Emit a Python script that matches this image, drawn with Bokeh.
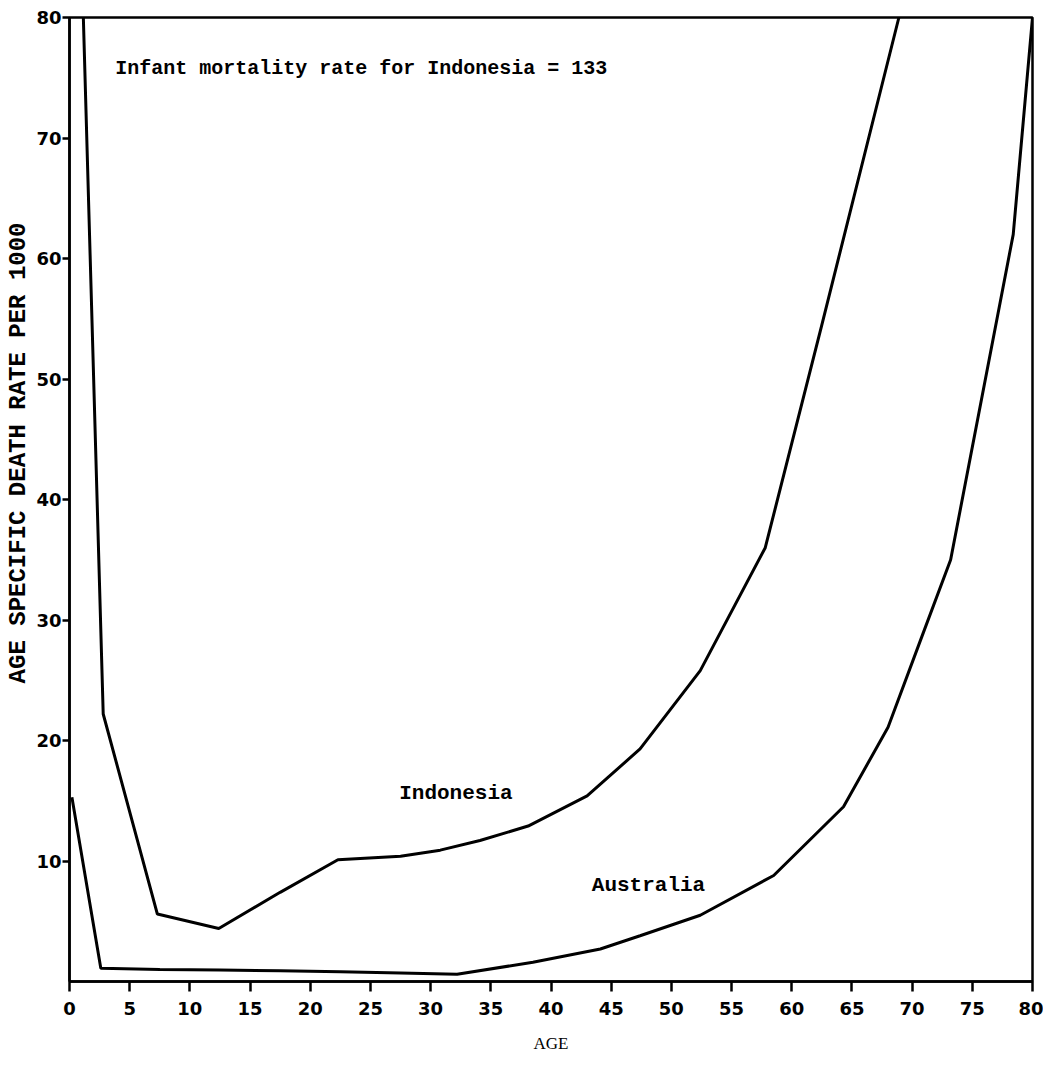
import math
from bokeh.plotting import figure
from bokeh.models import Range1d, FixedTicker, Label, Title
from bokeh.embed import file_html
from bokeh.resources import INLINE

# ---- data ----
x_ticks = [0, 5, 10, 15, 20, 25, 30, 35, 40, 45, 50, 55, 60, 65, 70, 75, 80]
y_ticks = [10, 20, 30, 40, 50, 60, 70, 80]

indo_age = [1.15, 2.8, 7.3, 12.4, 17.5, 22.3, 27.5, 30.8, 34.1, 38.1, 43.0, 47.4, 52.4, 57.8, 62.5, 68.9]
indo_rate = [80.0, 22.2, 5.6, 4.4, 7.4, 10.1, 10.4, 10.9, 11.7, 12.9, 15.4, 19.3, 25.8, 36.0, 54.5, 80.0]

aus_age = [0.2, 2.6, 7.5, 12.5, 17.5, 22.5, 27.5, 32.2, 38.5, 44.1, 47.4, 52.4, 58.5, 64.3, 68.0, 70.8, 73.2, 78.4, 80.0]
aus_rate = [15.3, 1.1, 1.0, 0.95, 0.9, 0.8, 0.7, 0.6, 1.6, 2.7, 3.8, 5.5, 8.8, 14.5, 21.1, 28.6, 35.0, 62.0, 80.0]

note_text = "Infant mortality rate for Indonesia = 133"
series_labels = ["Indonesia", "Australia"]
label_pos = [(32.1, 15.6), (48.1, 8.0)]
y_title = "AGE SPECIFIC DEATH RATE PER 1000"
x_title = "AGE"

p = figure(width=1043, height=1063,
           x_range=Range1d(0, 80), y_range=Range1d(0, 80),
           output_backend="svg", toolbar_location=None,
           min_border_left=69, min_border_right=11,
           min_border_top=17, min_border_bottom=82)

p.background_fill_color = "white"
p.border_fill_color = "white"
p.outline_line_color = "black"
p.outline_line_width = 2.5
p.xgrid.visible = False
p.ygrid.visible = False

# x axis
xa = p.xaxis[0]
xa.ticker = FixedTicker(ticks=x_ticks)
xa.axis_line_width = 2.5
xa.major_tick_line_width = 2.5
xa.major_tick_in = 0
xa.major_tick_out = 10
xa.minor_tick_line_color = None
xa.major_label_standoff = 10
xa.major_label_text_font = "DejaVu Sans"
xa.major_label_text_font_style = "bold"
xa.major_label_text_font_size = "18px"
xa.major_label_text_color = "black"
xa.axis_label = x_title
xa.axis_label_text_font = "Liberation Serif"
xa.axis_label_text_font_style = "normal"
xa.axis_label_text_font_size = "17px"
xa.axis_label_text_color = "black"
xa.axis_label_standoff = 16

# y axis
ya = p.yaxis[0]
ya.ticker = FixedTicker(ticks=y_ticks)
ya.axis_line_width = 2.5
ya.major_tick_line_width = 2.5
ya.major_tick_in = 0
ya.major_tick_out = 7
ya.minor_tick_line_color = None
ya.major_label_standoff = 1
ya.major_label_text_font = "DejaVu Sans"
ya.major_label_text_font_style = "bold"
ya.major_label_text_font_size = "18px"
ya.major_label_text_color = "black"

# y title placed left of the axis, shifted upward like the reference
p.add_layout(Title(text=y_title, align="right", offset=205,
                   text_font="Liberation Mono", text_font_style="bold",
                   text_font_size="24px", text_color="black", standoff=3), "left")

# series
p.line(indo_age, indo_rate, line_color="black", line_width=3)
p.line(aus_age, aus_rate, line_color="black", line_width=3)

# annotations
p.add_layout(Label(x=3.8, y=75.8, text=note_text, text_align="left",
                   text_baseline="middle", text_font="Liberation Mono",
                   text_font_style="bold", text_font_size="20px", text_color="black"))
for name, (lx, ly) in zip(series_labels, label_pos):
    p.add_layout(Label(x=lx, y=ly, text=name, text_align="center",
                       text_baseline="middle", text_font="Liberation Mono",
                       text_font_style="bold", text_font_size="21px", text_color="black"))

open("out.html", "w").write(file_html(p, INLINE))
